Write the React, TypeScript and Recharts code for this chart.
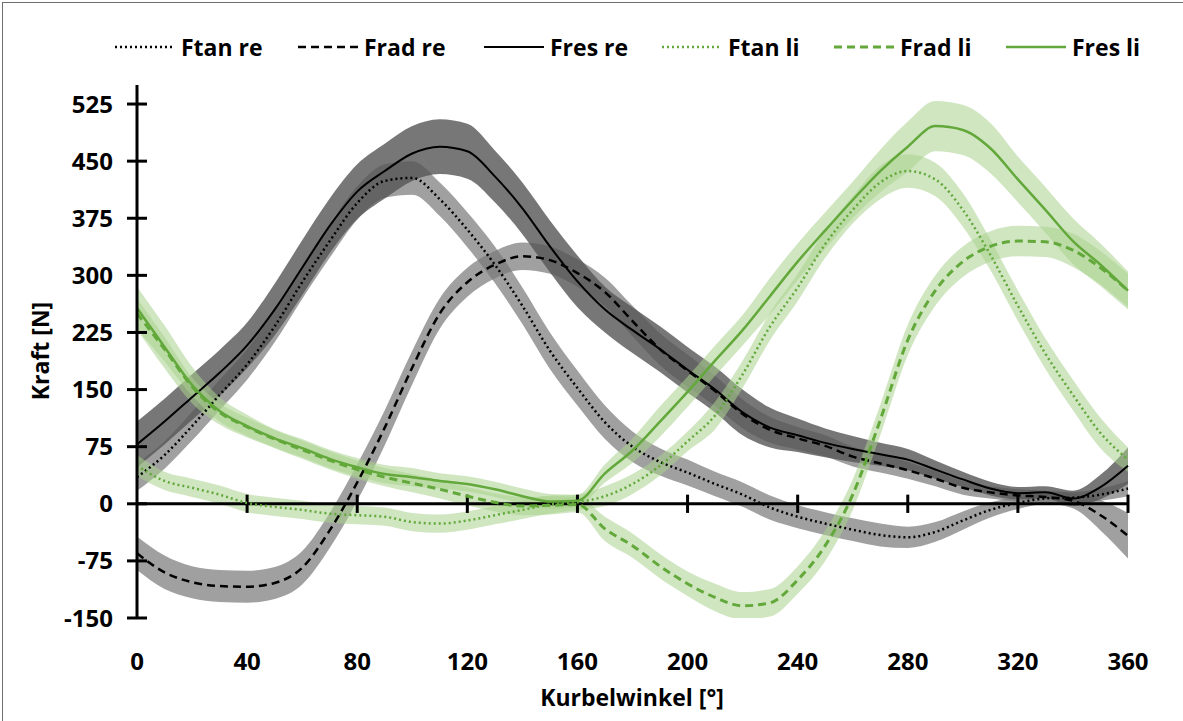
import { ComposedChart, Line, Area, XAxis, YAxis, ReferenceLine } from "recharts";

// crank angle in degrees
const angles = [0, 10, 20, 30, 40, 50, 60, 70, 80, 90, 100, 110, 120, 130, 140, 150, 160, 170, 180, 190, 200, 210, 220, 230, 240, 250, 260, 270, 280, 290, 300, 310, 320, 330, 340, 350, 360];
const xTicks = [0, 40, 80, 120, 160, 200, 240, 280, 320, 360];
const yTicks = [-150, -75, 0, 75, 150, 225, 300, 375, 450, 525];

// right leg (re)
const ftanRe = [35, 64, 102, 143, 183, 233, 291, 345, 395, 424, 428, 400, 360, 314, 260, 201, 152, 107, 75, 55, 41, 26, 12, -5, -17, -26, -34, -41, -44, -37, -22, -8, 1, 7, 8, 12, 20];
const ftanReSd = [18, 18, 19, 20, 20, 21, 22, 22, 22, 22, 22, 22, 23, 24, 24, 24, 23, 22, 20, 18, 17, 16, 16, 16, 15, 15, 15, 15, 14, 13, 12, 10, 8, 7, 7, 8, 10];
const fradRe = [-65, -90, -103, -108, -109, -104, -84, -35, 28, 100, 179, 250, 291, 314, 325, 320, 303, 278, 240, 203, 175, 148, 118, 97, 86, 76, 62, 53, 44, 33, 21, 15, 11, 9, 4, -15, -42];
const fradReSd = [22, 22, 21, 21, 21, 21, 22, 23, 24, 23, 22, 20, 19, 18, 18, 18, 18, 19, 20, 21, 21, 20, 19, 17, 15, 14, 13, 12, 11, 10, 9, 8, 8, 8, 10, 20, 30];
const fresRe = [78, 108, 140, 172, 208, 255, 310, 365, 410, 437, 460, 469, 463, 430, 388, 338, 292, 255, 228, 203, 176, 150, 120, 100, 90, 80, 72, 65, 58, 45, 32, 20, 14, 15, 7, 22, 50];
const fresReSd = [30, 30, 30, 30, 30, 34, 36, 36, 36, 36, 36, 36, 36, 34, 34, 34, 34, 30, 30, 30, 30, 30, 30, 26, 22, 19, 17, 15, 14, 12, 10, 9, 8, 8, 10, 16, 24];

// left leg (li)
const ftanLi = [50, 30, 21, 12, 1, -4, -8, -13, -15, -17, -24, -26, -22, -15, -8, -1, 2, 10, 26, 50, 82, 116, 170, 233, 284, 341, 386, 422, 437, 426, 386, 327, 260, 197, 143, 93, 58];
const ftanLiSd = [14, 12, 12, 12, 12, 12, 12, 12, 12, 12, 12, 12, 12, 12, 12, 12, 10, 13, 13, 13, 13, 18, 18, 18, 18, 18, 18, 22, 22, 22, 22, 20, 20, 20, 20, 20, 16];
const fradLi = [250, 203, 154, 120, 101, 85, 71, 57, 45, 35, 27, 19, 10, 2, -3, -2, -1, -33, -55, -82, -105, -123, -134, -130, -100, -55, 12, 110, 215, 280, 318, 338, 345, 344, 333, 310, 280];
const fradLiSd = [20, 16, 12, 12, 12, 12, 12, 12, 12, 12, 12, 12, 12, 12, 12, 12, 10, 16, 16, 16, 16, 18, 18, 18, 18, 20, 20, 20, 20, 20, 20, 20, 20, 20, 22, 22, 22];
const fresLi = [257, 206, 156, 122, 102, 86, 73, 59, 48, 39, 35, 30, 26, 19, 10, 3, 4, 40, 70, 108, 147, 188, 228, 273, 318, 359, 399, 437, 469, 496, 491, 467, 426, 386, 345, 314, 280];
const fresLiSd = [28, 28, 24, 18, 15, 12, 12, 12, 12, 12, 12, 10, 10, 10, 10, 10, 8, 12, 16, 20, 20, 20, 20, 24, 24, 24, 24, 28, 33, 33, 33, 33, 30, 30, 30, 28, 25];

const chartData = angles.map((a, i) => ({
  angle: a,
  ftanRe: ftanRe[i],
  fradRe: fradRe[i],
  fresRe: fresRe[i],
  ftanLi: ftanLi[i],
  fradLi: fradLi[i],
  fresLi: fresLi[i],
  ftanReBand: [ftanRe[i] - ftanReSd[i], ftanRe[i] + ftanReSd[i]],
  fradReBand: [fradRe[i] - fradReSd[i], fradRe[i] + fradReSd[i]],
  fresReBand: [fresRe[i] - fresReSd[i], fresRe[i] + fresReSd[i]],
  ftanLiBand: [ftanLi[i] - ftanLiSd[i], ftanLi[i] + ftanLiSd[i]],
  fradLiBand: [fradLi[i] - fradLiSd[i], fradLi[i] + fradLiSd[i]],
  fresLiBand: [fresLi[i] - fresLiSd[i], fresLi[i] + fresLiSd[i]],
}));

const GREEN = "#62a83a";
const DOT = "2 3";
const DASH = "8 5";

const series = [
  { key: "ftanRe", name: "Ftan re", color: "#000", dash: DOT, width: 2.5, left: 115 },
  { key: "fradRe", name: "Frad re", color: "#000", dash: DASH, width: 2.5, left: 298 },
  { key: "fresRe", name: "Fres re", color: "#000", dash: undefined, width: 2, left: 484 },
  { key: "ftanLi", name: "Ftan li", color: GREEN, dash: DOT, width: 2.5, left: 662 },
  { key: "fradLi", name: "Frad li", color: GREEN, dash: DASH, width: 3, left: 834 },
  { key: "fresLi", name: "Fres li", color: GREEN, dash: undefined, width: 2.5, left: 1006 },
];

const bands = [
  { key: "fradReBand", fill: "#777", opacity: 0.7 },
  { key: "ftanReBand", fill: "#777", opacity: 0.7 },
  { key: "fresReBand", fill: "#555", opacity: 0.8 },
  { key: "fradLiBand", fill: "#a9d18e", opacity: 0.55 },
  { key: "ftanLiBand", fill: "#a9d18e", opacity: 0.55 },
  { key: "fresLiBand", fill: "#a9d18e", opacity: 0.55 },
];

const font = "'Open Sans', sans-serif";

const XTick = ({ x, y, payload }: any) => (
  <text x={x} y={y} dy={52} textAnchor="middle" fontFamily={font} fontWeight={700} fontSize={24} fill="#000">
    {payload.value}
  </text>
);

const YTick = ({ x, y, payload }: any) => (
  <g>
    <line x1={x - 10} x2={x + 10} y1={y} y2={y} stroke="#000" strokeWidth={3} />
    <text x={x - 24} y={y} dy={8.5} textAnchor="end" fontFamily={font} fontWeight={700} fontSize={24} fill="#000">
      {payload.value}
    </text>
  </g>
);

export default function App() {
  return (
    <div style={{ position: "absolute", left: 0, top: 0, width: 1183, height: 721, overflow: "hidden", background: "#fff" }}>
      <div style={{ position: "absolute", left: 2, top: 2, width: 1190, height: 730, border: "1px solid #6f6f6f" }} />
      <div style={{ position: "absolute", left: 0, top: 0 }}>
        <ComposedChart width={1183} height={721} data={chartData} margin={{ top: 85, right: 55, bottom: 43, left: 67 }}>
          <XAxis
            dataKey="angle"
            type="number"
            domain={[0, 360]}
            ticks={xTicks}
            interval={0}
            axisLine={false}
            tickLine={false}
            tickSize={0}
            tickMargin={0}
            height={60}
            tick={XTick}
          />
          <YAxis
            type="number"
            domain={[-150, 550]}
            ticks={yTicks}
            interval={0}
            width={70}
            axisLine={{ stroke: "#000", strokeWidth: 3 }}
            tickLine={false}
            tickSize={0}
            tickMargin={0}
            tick={YTick}
            allowDataOverflow
          />
          {bands.map((b) => (
            <Area
              key={b.key}
              dataKey={b.key}
              type="monotone"
              stroke="none"
              fill={b.fill}
              fillOpacity={b.opacity}
              isAnimationActive={false}
            />
          ))}
          <ReferenceLine y={0} stroke="#000" strokeWidth={3} />
          {xTicks.slice(1).map((t) => (
            <ReferenceLine
              key={t}
              segment={[{ x: t, y: -12 }, { x: t, y: 12 }]}
              stroke="#000"
              strokeWidth={3}
            />
          ))}
          {series.map((s) => (
            <Line
              key={s.key}
              dataKey={s.key}
              type="monotone"
              stroke={s.color}
              strokeWidth={s.width}
              strokeDasharray={s.dash}
              dot={false}
              isAnimationActive={false}
            />
          ))}
        </ComposedChart>
      </div>
      {series.map((s) => (
        <div
          key={s.key}
          style={{ position: "absolute", left: s.left, top: 31, height: 32, display: "flex", alignItems: "center", gap: 6 }}
        >
          <svg width={60} height={6}>
            <line x1={0} x2={60} y1={3} y2={3} stroke={s.color} strokeWidth={s.width} strokeDasharray={s.dash} />
          </svg>
          <span style={{ fontFamily: font, fontWeight: 700, fontSize: 23, color: "#000", whiteSpace: "nowrap" }}>{s.name}</span>
        </div>
      ))}
      <div
        style={{
          position: "absolute",
          left: 40,
          top: 351,
          transform: "translate(-50%, -50%) rotate(-90deg)",
          fontFamily: font,
          fontWeight: 700,
          fontSize: 23,
          whiteSpace: "nowrap",
        }}
      >
        Kraft [N]
      </div>
      <div
        style={{
          position: "absolute",
          left: 632,
          top: 697,
          transform: "translate(-50%, -50%)",
          fontFamily: font,
          fontWeight: 700,
          fontSize: 23,
          whiteSpace: "nowrap",
        }}
      >
        Kurbelwinkel [°]
      </div>
    </div>
  );
}
